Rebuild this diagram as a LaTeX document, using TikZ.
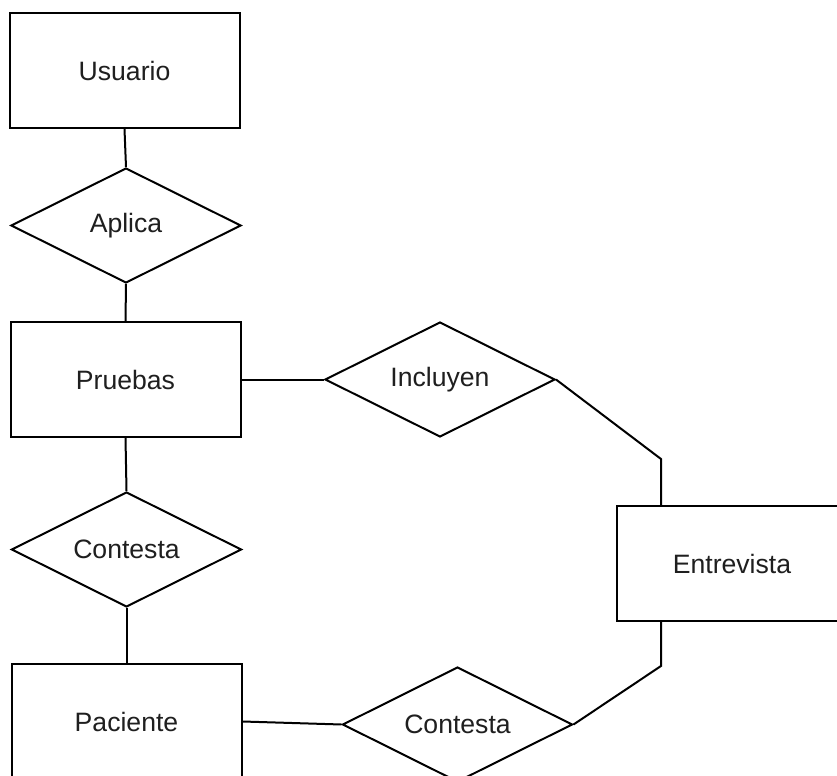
\documentclass[tikz,border=0pt]{standalone}
\usepackage{fontspec}
\setmainfont{Liberation Sans}
\usetikzlibrary{shapes.geometric}
\begin{document}
\begin{tikzpicture}[x=0.5pt,y=-0.5pt,
  every node/.style={font=\fontsize{13.3}{16}\selectfont, text=black!88},
  entity/.style={draw=black, line width=1pt, rectangle, minimum width=115pt, minimum height=57.5pt, inner sep=0pt, fill=white},
  relation/.style={draw=black, line width=1pt, diamond, aspect=2, minimum width=115pt, minimum height=57.5pt, inner sep=0pt, fill=white},
  link/.style={draw=black, line width=1pt}]
\useasboundingbox (0,0) rectangle (837,776);
\clip (0,0) rectangle (837,776);
\node[entity] (usuario) at (124.5,70.5) {Usuario};
\node[relation] (aplica) at (126,225.5) {Aplica};
\node[entity] (pruebas) at (125.5,379.5) {Pruebas};
\node[relation] (incluyen) at (440,379.5) {Incluyen};
\node[relation] (contesta1) at (126.5,549.5) {Contesta};
\node[entity] (entrevista) at (732,563.5) {Entrevista};
\node[entity] (paciente) at (126.5,721.5) {Paciente};
\node[relation] (contesta2) at (457.5,724.5) {Contesta};
\coordinate (k1) at (661,459);
\coordinate (k2) at (661,666);
\draw[link] (usuario.south) -- (aplica.north);
\draw[link] (aplica.south) -- (pruebas.north);
\draw[link] (pruebas.east) -- (incluyen.west);
\draw[link] (incluyen.east) -- (k1) -- (k1 |- entrevista.north);
\draw[link] (pruebas.south) -- (contesta1.north);
\draw[link] (contesta1.south) -- (paciente.north);
\draw[link] (paciente.east) -- (contesta2.west);
\draw[link] (contesta2.east) -- (k2) -- (k2 |- entrevista.south);
\end{tikzpicture}
\end{document}
